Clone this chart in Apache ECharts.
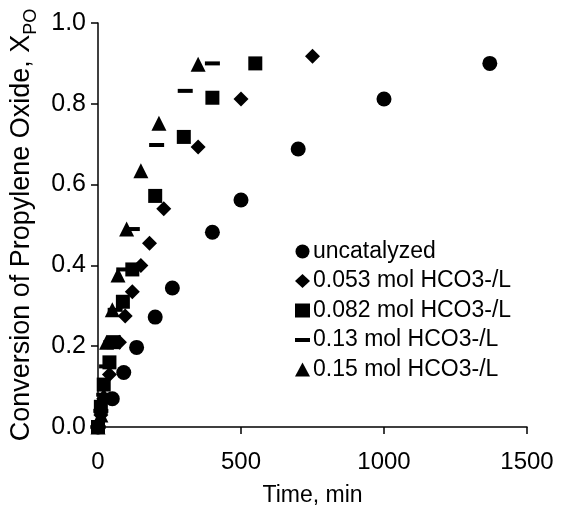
<!DOCTYPE html>
<html>
<head>
<meta charset="utf-8">
<script src="https://cdn.jsdelivr.net/npm/echarts@6/dist/echarts.min.js"></script>
<style>
html,body{margin:0;padding:0;background:#fff;}
#chart{width:561px;height:513px;}
</style>
</head>
<body>
<div id="chart"></div>
<script>
// Series names
var seriesNames = ['uncatalyzed', '0.053 mol HCO3-/L', '0.082 mol HCO3-/L', '0.13 mol HCO3-/L', '0.15 mol HCO3-/L'];

// Time (min) and conversion values per series
var tUncat = [0, 50, 90, 135, 200, 260, 400, 500, 700, 1000, 1370];
var xUncat = [0, 0.07, 0.135, 0.197, 0.272, 0.344, 0.482, 0.562, 0.688, 0.812, 0.90];

var t053 = [0, 10, 20, 40, 75, 95, 120, 150, 180, 230, 350, 500, 750];
var x053 = [0, 0.03, 0.07, 0.13, 0.21, 0.275, 0.335, 0.40, 0.455, 0.54, 0.693, 0.812, 0.918];

var t082 = [0, 10, 20, 40, 55, 87, 120, 200, 300, 400, 550];
var x082 = [0, 0.05, 0.105, 0.16, 0.21, 0.31, 0.39, 0.572, 0.718, 0.815, 0.90];

var t13 = [0, 10, 20, 30, 45, 60, 90, 120, 205, 305, 400];
var x13 = [0, 0.04, 0.08, 0.15, 0.21, 0.29, 0.39, 0.49, 0.698, 0.832, 0.90];

var t15 = [0, 10, 20, 30, 50, 70, 100, 150, 213, 350];
var x15 = [0, 0.03, 0.08, 0.21, 0.29, 0.376, 0.49, 0.634, 0.752, 0.898];

// Axis ticks
var xTicks = [0, 500, 1000, 1500];
var yTicks = [0, 0.2, 0.4, 0.6, 0.8, 1.0];

function pairs(t, v) { return t.map(function (ti, i) { return [ti, v[i]]; }); }

var FONT = 'Liberation Sans, Arial, sans-serif';
var dashPath = 'path://M0,0h15v4h-15z';
var symbols = ['circle', 'diamond', 'rect', 'rect', 'triangle'];
var legendIcons = ['circle', 'diamond', 'rect', dashPath, 'triangle'];
var sizes = [15, 15, 14, [15, 4], 15];
var datasets = [pairs(tUncat, xUncat), pairs(t053, x053), pairs(t082, x082), pairs(t13, x13), pairs(t15, x15)];

var chart = echarts.init(document.getElementById('chart'), null, {renderer: 'canvas'});
var option = {
  animation: false,
  backgroundColor: '#fff',
  grid: {left: 98, right: 34, top: 23, bottom: 86, containLabel: false, outerBoundsMode: 'none'},
  legend: {
    orient: 'vertical',
    left: 290,
    top: 235,
    itemWidth: 15,
    itemHeight: 14,
    itemGap: 6.5,
    textStyle: {fontFamily: FONT, fontSize: 23, color: '#000', padding: [0, 0, 0, -2]},
    data: seriesNames.map(function (n, i) { return {name: n, icon: legendIcons[i], itemStyle: {color: '#000'}}; })
  },
  xAxis: {
    type: 'value',
    min: xTicks[0], max: xTicks[xTicks.length - 1], interval: 500,
    name: 'Time, min', nameLocation: 'middle', nameGap: 57,
    nameTextStyle: {fontFamily: FONT, fontSize: 23, color: '#000'},
    axisLine: {lineStyle: {color: '#000', width: 1.5}},
    axisTick: {show: true, inside: false, length: 7, lineStyle: {color: '#000', width: 1.5}},
    axisLabel: {fontFamily: FONT, fontSize: 24, color: '#000', margin: 23,
      formatter: function (v) { return String(v); }},
    splitLine: {show: false}
  },
  yAxis: {
    type: 'value',
    min: yTicks[0], max: yTicks[yTicks.length - 1], interval: 0.2,
    name: '{m|Conversion of Propylene Oxide, X}{s|PO}',
    nameLocation: 'middle', nameRotate: 90, nameGap: 58,
    nameTextStyle: {
      fontFamily: FONT, color: '#000',
      rich: {
        m: {fontFamily: FONT, fontSize: 27, color: '#000', lineHeight: 36, verticalAlign: 'middle'},
        s: {fontFamily: FONT, fontSize: 18, color: '#000', lineHeight: 36, verticalAlign: 'bottom'}
      }
    },
    axisLine: {show: true, lineStyle: {color: '#000', width: 1.5}},
    axisTick: {show: true, inside: false, length: 7, lineStyle: {color: '#000', width: 1.5}},
    axisLabel: {fontFamily: FONT, fontSize: 25, color: '#000', margin: 12,
      formatter: function (v) { return v.toFixed(1); }},
    splitLine: {show: false}
  },
  series: datasets.map(function (d, i) {
    return {
      type: 'scatter',
      name: seriesNames[i],
      data: d,
      symbol: symbols[i],
      symbolSize: sizes[i],
      symbolKeepAspect: false,
      clip: false,
      itemStyle: {color: '#000', opacity: 1},
      emphasis: {disabled: true},
      z: 2 + i
    };
  })
};
chart.setOption(option);
</script>
</body>
</html>
